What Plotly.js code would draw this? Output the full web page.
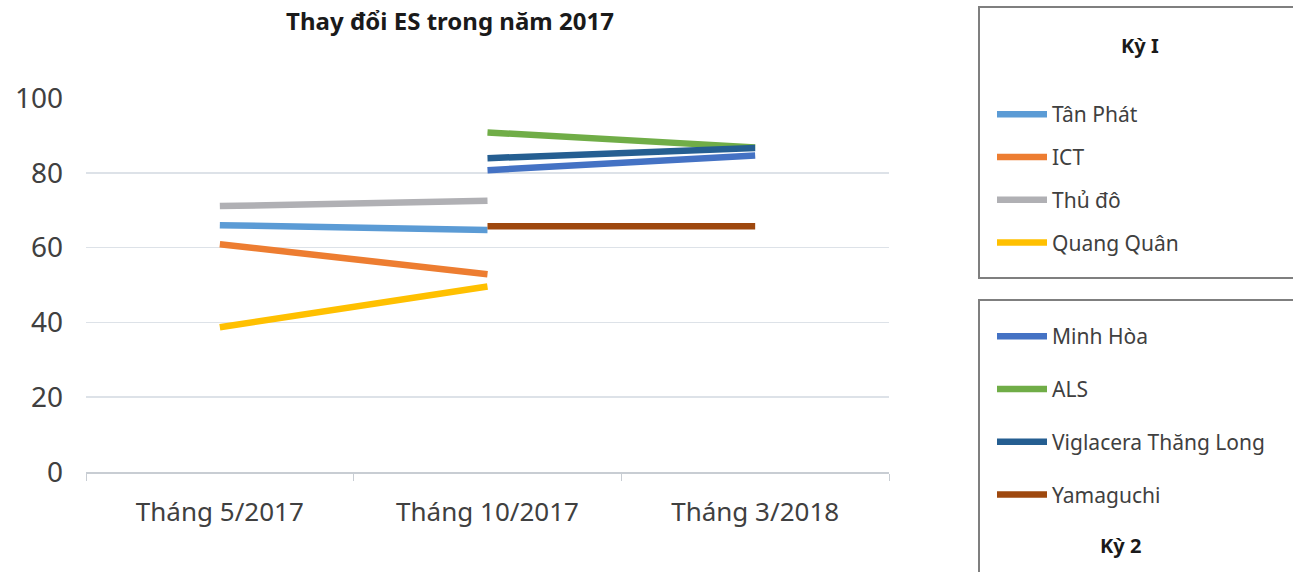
<!DOCTYPE html>
<html>
<head>
<meta charset="utf-8">
<script src="https://cdn.plot.ly/plotly-3.0.1.min.js"></script>
<style>html,body{margin:0;padding:0;background:#fff}#chart{width:1293px;height:572px}</style>
</head>
<body>
<div id="chart"></div>
<script>
const categories = ["Tháng 5/2017", "Tháng 10/2017", "Tháng 3/2018"];
const yTicks = [0, 20, 40, 60, 80, 100];

// Kỳ I
const tanPhat   = [66.0, 64.7, null];
const ict       = [60.9, 52.9, null];
const thuDo     = [71.1, 72.5, null];
const quangQuan = [38.7, 49.6, null];
// Kỳ 2
const minhHoa   = [null, 80.7, 84.6];
const als       = [null, 90.8, 86.8];
const viglacera = [null, 83.9, 86.6];
const yamaguchi = [null, 65.7, 65.7];

const period1Names = ["Tân Phát", "ICT", "Thủ đô", "Quang Quân"];
const period2Names = ["Minh Hòa", "ALS", "Viglacera Thăng Long", "Yamaguchi"];
const period1Values = [tanPhat, ict, thuDo, quangQuan];
const period2Values = [minhHoa, als, viglacera, yamaguchi];
const period1Colors = ["#5B9BD5", "#ED7D31", "#B0B0B4", "#FFC000"];
const period2Colors = ["#4472C4", "#70AD47", "#255E91", "#9E480E"];

const FONT = "Noto Sans, sans-serif";
const traces = [];
period1Names.forEach((n, i) => traces.push({
  x: categories, y: period1Values[i], name: n, type: "scatter", mode: "lines",
  line: {color: period1Colors[i], width: 6.5}, legend: "legend", legendgroup: "a" + i,
  connectgaps: false, hoverinfo: "skip"
}));
period2Names.forEach((n, i) => traces.push({
  x: categories, y: period2Values[i], name: n, type: "scatter", mode: "lines",
  line: {color: period2Colors[i], width: 6.5}, legend: "legend2", legendgroup: "b" + i,
  connectgaps: false, hoverinfo: "skip"
}));

const layout = {
  width: 1293, height: 572,
  margin: {l: 86, r: 404, t: 98, b: 100},
  paper_bgcolor: "#fff", plot_bgcolor: "#fff",
  font: {family: FONT, color: "#404040"},
  title: {text: "<b>Thay đổi ES trong năm 2017</b>", font: {family: FONT, size: 24, color: "#1a1a1a"},
          xref: "container", x: 450/1293, xanchor: "center", yref: "container", y: 1 - 22/572, yanchor: "middle"},
  xaxis: {type: "category", categoryorder: "array", categoryarray: categories, range: [-0.5, 2.5],
          showgrid: false, zeroline: false, showline: true, linecolor: "#C8CDD3", linewidth: 1.5,
          ticks: "outside", tickson: "boundaries", ticklen: 7, tickcolor: "#C8CDD3",
          tickfont: {family: FONT, size: 26, color: "#404040"}, ticklabelstandoff: 16, fixedrange: true},
  yaxis: {range: [0, 100], tickvals: yTicks, ticktext: yTicks.map(String), showgrid: true,
          gridcolor: "#DDE2E8", gridwidth: 1.5, zeroline: false, showline: false, ticks: "",
          tickfont: {family: FONT, size: 28, color: "#404040"}, ticklabelstandoff: 22, fixedrange: true},
  showlegend: true,
  legend: {xref: "container", yref: "container", x: 992/1293, y: 1 - 94/572, xanchor: "left", yanchor: "top",
           bgcolor: "rgba(0,0,0,0)", borderwidth: 0, traceorder: "grouped", tracegroupgap: 12.5,
           itemwidth: 50, font: {family: FONT, size: 21, color: "#404040"}},
  legend2: {xref: "container", yref: "container", x: 992/1293, y: 1 - 316/572, xanchor: "left", yanchor: "top",
           bgcolor: "rgba(0,0,0,0)", borderwidth: 0, traceorder: "grouped", tracegroupgap: 22.5,
           itemwidth: 50, font: {family: FONT, size: 21, color: "#404040"}},
  shapes: [
    {type: "rect", xref: "paper", yref: "paper", x0: (979-86)/803, x1: 1.8, y0: (472-278)/374, y1: (472-7)/374,
     line: {color: "#7F7F7F", width: 2}, fillcolor: "rgba(0,0,0,0)"},
    {type: "rect", xref: "paper", yref: "paper", x0: (979-86)/803, x1: 1.8, y0: -0.6, y1: (472-300)/374,
     line: {color: "#7F7F7F", width: 2}, fillcolor: "rgba(0,0,0,0)"}
  ],
  annotations: [
    {text: "<b>Kỳ I</b>", xref: "paper", yref: "paper", x: (1140-86)/803, y: (472-45)/374,
     showarrow: false, xanchor: "center", yanchor: "middle", font: {family: FONT, size: 20, color: "#1a1a1a"}},
    {text: "<b>Kỳ 2</b>", xref: "paper", yref: "paper", x: (1120-86)/803, y: (472-545)/374,
     showarrow: false, xanchor: "center", yanchor: "middle", font: {family: FONT, size: 20, color: "#1a1a1a"}}
  ]
};

Plotly.newPlot("chart", traces, layout, {displayModeBar: false, staticPlot: true});
</script>
</body>
</html>
